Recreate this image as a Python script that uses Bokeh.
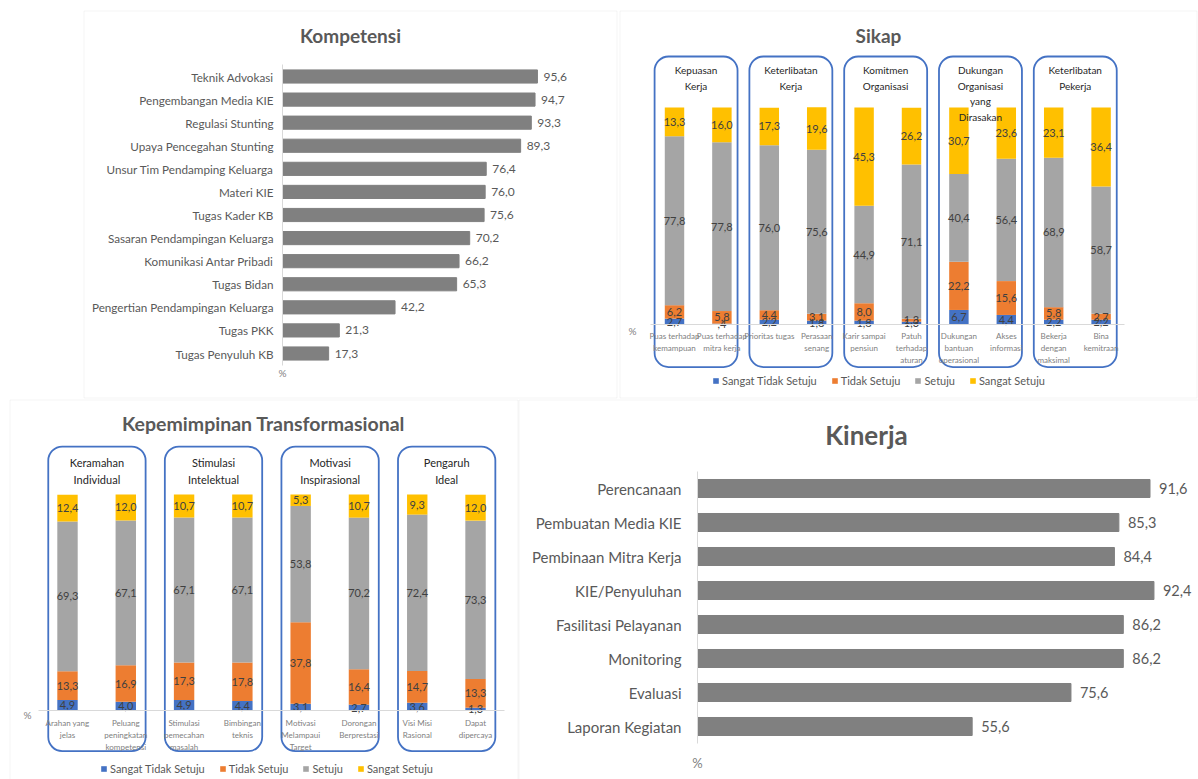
from bokeh.plotting import figure
from bokeh.models import (ColumnDataSource, Label, Legend, LegendItem, Range1d, LabelSet,
                          BoxAnnotation, LinearAxis, FixedTicker)
from bokeh.core.properties import value
from bokeh.embed import file_html
from bokeh.resources import INLINE

W, H = 1198, 779
FONT = "Lato"
GRAY_TXT = "#595959"
DARK_TXT = "#404040"

# ---------------- data ----------------
komp_cats = ["Teknik Advokasi", "Pengembangan Media KIE", "Regulasi Stunting",
             "Upaya Pencegahan Stunting", "Unsur Tim Pendamping Keluarga", "Materi KIE",
             "Tugas Kader KB", "Sasaran Pendampingan Keluarga", "Komunikasi Antar Pribadi",
             "Tugas Bidan", "Pengertian Pendampingan Keluarga", "Tugas PKK", "Tugas Penyuluh KB"]
komp_vals = [95.6, 94.7, 93.3, 89.3, 76.4, 76.0, 75.6, 70.2, 66.2, 65.3, 42.2, 21.3, 17.3]

kin_cats = ["Perencanaan", "Pembuatan Media KIE", "Pembinaan Mitra Kerja", "KIE/Penyuluhan",
            "Fasilitasi Pelayanan", "Monitoring", "Evaluasi", "Laporan Kegiatan"]
kin_vals = [91.6, 85.3, 84.4, 92.4, 86.2, 86.2, 75.6, 55.6]

series_names = ["Sangat Tidak Setuju", "Tidak Setuju", "Setuju", "Sangat Setuju"]
series_colors = ["#4472C4", "#ED7D31", "#A5A5A5", "#FFC000"]

sikap_cats = ["Puas terhadap\nkemampuan", "Puas terhadap\nmitra kerja", "Prioritas tugas",
              "Perasaan\nsenang", "Karir sampai\npensiun", "Patuh\nterhadap\naturan",
              "Dukungan\nbantuan\noperasional", "Akses\ninformasi", "Bekerja\ndengan\nmaksimal",
              "Bina\nkemitraan"]
sikap_sts = [2.7, 0.4, 2.2, 1.8, 1.8, 1.3, 6.7, 4.4, 2.2, 2.2]
sikap_ts = [6.2, 5.8, 4.4, 3.1, 8.0, 1.3, 22.2, 15.6, 5.8, 2.7]
sikap_s = [77.8, 77.8, 76.0, 75.6, 44.9, 71.1, 40.4, 56.4, 68.9, 58.7]
sikap_ss = [13.3, 16.0, 17.3, 19.6, 45.3, 26.2, 30.7, 23.6, 23.1, 36.4]
sikap_groups = ["Kepuasan\nKerja", "Keterlibatan\nKerja", "Komitmen\nOrganisasi",
                "Dukungan\nOrganisasi\nyang\nDirasakan", "Keterlibatan\nPekerja"]

kep_cats = ["Arahan yang\njelas", "Peluang\npeningkatan\nkompetensi", "Stimulasi\npemecahan\nmasalah",
            "Bimbingan\nteknis", "Motivasi\nMelampaui\nTarget", "Dorongan\nBerprestasi",
            "Visi Misi\nRasional", "Dapat\ndipercaya"]
kep_sts = [4.9, 4.0, 4.9, 4.4, 3.1, 2.7, 3.6, 1.3]
kep_ts = [13.3, 16.9, 17.3, 17.8, 37.8, 16.4, 14.7, 13.3]
kep_s = [69.3, 67.1, 67.1, 67.1, 53.8, 70.2, 72.4, 73.3]
kep_ss = [12.4, 12.0, 10.7, 10.7, 5.3, 10.7, 9.3, 12.0]
kep_groups = ["Keramahan\nIndividual", "Stimulasi\nIntelektual", "Motivasi\nInspirasional",
              "Pengaruh\nIdeal"]


def fmt(v):
    s = f"{v:.1f}".replace(".", ",")
    return s[1:] if s.startswith("0") else s


# one canvas; default ranges are page pixels (y downwards), each panel gets its own ranges
p = figure(width=W, height=H, x_range=Range1d(0, W), y_range=Range1d(H, 0),
           output_backend="svg", toolbar_location=None, x_axis_location=None,
           y_axis_location=None, min_border=0)
p.title.visible = False
p.outline_line_color = None
p.xgrid.visible = False
p.ygrid.visible = False


def x_map(name, px0, ppu):
    # value 0 sits at pixel px0, ppu pixels per unit (rightwards)
    p.extra_x_ranges[name] = Range1d(-px0 / ppu, (W - px0) / ppu)


def y_up(name, py0, ppu):
    # value 0 at pixel row py0, values grow upwards
    p.extra_y_ranges[name] = Range1d((py0 - H) / ppu, py0 / ppu)


def y_down(name, py0, ppu):
    # index 0 at pixel row py0, indices grow downwards
    p.extra_y_ranges[name] = Range1d((H - py0) / ppu, -py0 / ppu)


def panel_border(l, t, r, b):
    p.add_layout(BoxAnnotation(left=l + 0.5, right=r - 0.5, top=t + 0.5, bottom=b - 0.5,
                               fill_alpha=0, fill_color=None, line_color="#d9d9d9",
                               line_width=1, level="underlay"))


def title(text, x, y, size):
    p.add_layout(Label(x=x, y=y, text=text, text_align="center", text_baseline="middle",
                       text_font=FONT, text_font_style="bold", text_font_size=size,
                       text_color=GRAY_TXT))


def hbar_panel(key, cats, vals, bar_h, label_fs, val_fs, val_off, standoff, pct_y, pct_fs):
    xr, yr = key + "x", key + "y"
    idx = list(range(len(cats)))
    src = ColumnDataSource(dict(i=idx, v=vals, t=[fmt(v) for v in vals]))
    p.hbar(y="i", right="v", left=0, height=bar_h, source=src, color="#808080",
           x_range_name=xr, y_range_name=yr)
    p.add_layout(LabelSet(x="v", y="i", text="t", source=src, x_offset=val_off,
                          text_baseline="middle", text_font=value(FONT),
                          text_font_size=val_fs, text_color=GRAY_TXT,
                          x_range_name=xr, y_range_name=yr))
    ax = LinearAxis(x_range_name=xr, y_range_name=yr, fixed_location=0,
                    ticker=FixedTicker(ticks=idx),
                    major_label_overrides={i: c for i, c in zip(idx, cats)},
                    bounds=(-0.5, len(cats) - 0.5))
    ax.axis_line_color = "#d9d9d9"
    ax.major_tick_line_color = None
    ax.minor_tick_line_color = None
    ax.major_tick_out = 0
    ax.major_tick_in = 0
    ax.major_label_standoff = standoff
    ax.major_label_text_font = FONT
    ax.major_label_text_font_size = label_fs
    ax.major_label_text_color = GRAY_TXT
    p.add_layout(ax, "left")
    p.add_layout(Label(x=0, y=pct_y, x_range_name=xr, text="%", text_align="center",
                       text_baseline="middle", text_font=FONT, text_font_size=pct_fs,
                       text_color="#7f7f7f"))


def stack_panel(key, cats, data, groups, bar_w, box_l, box_r, box_lo, box_hi, grp_y, grp_fs,
                standoff, legend_xy):
    xr, yr = key + "x", key + "y"
    n = len(cats)
    idx = list(range(n))
    d = dict(i=idx)
    for name, vals in zip(series_names, data):
        d[name] = vals
    src = ColumnDataSource(d)
    rends = p.vbar_stack(series_names, x="i", width=bar_w, color=series_colors, source=src,
                         line_color=None, x_range_name=xr, y_range_name=yr)
    cum = [0.0] * n
    for vals in data:
        ys = [c + v / 2 for c, v in zip(cum, vals)]
        cum = [c + v for c, v in zip(cum, vals)]
        ls = ColumnDataSource(dict(x=idx, y=ys, t=[fmt(v) for v in vals]))
        p.text(x="x", y="y", text="t", source=ls, text_align="center", text_baseline="middle",
               text_font=value(FONT), text_font_size="11px", text_color=DARK_TXT,
               x_range_name=xr, y_range_name=yr)
    firsts = idx[0::2]
    gsrc = ColumnDataSource(dict(
        left=[f + box_l for f in firsts], right=[f + 1 + box_r for f in firsts],
        mid=[f + (box_l + 1 + box_r) / 2 for f in firsts], g=groups,
        top=[box_hi] * len(groups), bot=[box_lo] * len(groups), gy=[grp_y] * len(groups)))
    p.quad(left="left", right="right", top="top", bottom="bot", source=gsrc, fill_color=None,
           line_color="#4472C4", line_width=1.8, border_radius=14,
           x_range_name=xr, y_range_name=yr)
    p.text(x="mid", y="gy", text="g", source=gsrc, text_align="center", text_baseline="top",
           text_font=value(FONT), text_font_size=grp_fs, text_color="#262626",
           text_line_height=1.3, x_range_name=xr, y_range_name=yr)
    ax = LinearAxis(x_range_name=xr, y_range_name=yr, fixed_location=0,
                    ticker=FixedTicker(ticks=idx),
                    major_label_overrides={i: c for i, c in zip(idx, cats)},
                    bounds=(-0.5, n - 0.5))
    ax.axis_line_color = "#d9d9d9"
    ax.major_tick_line_color = None
    ax.minor_tick_line_color = None
    ax.major_tick_out = 0
    ax.major_tick_in = 0
    ax.major_label_standoff = standoff
    ax.major_label_text_font = FONT
    ax.major_label_text_font_size = "8px"
    ax.major_label_text_color = "#808080"
    p.add_layout(ax, "below")
    leg = Legend(items=[LegendItem(label=nm, renderers=[rr]) for nm, rr in zip(series_names, rends)],
                 orientation="horizontal", location=legend_xy, border_line_color=None,
                 background_fill_alpha=0, glyph_width=7, glyph_height=7, label_height=13,
                 label_text_font=FONT, label_text_font_size="11px", label_text_color=GRAY_TXT,
                 padding=0, margin=0, spacing=14, label_standoff=3)
    p.add_layout(leg, "center")


# ---- panel borders ----
panel_border(83, 10, 617, 398)
panel_border(619, 10, 1197, 398)
panel_border(9, 399, 518, 790)
panel_border(518, 399, 1210, 790)

# ---- Kompetensi ----
x_map("kx", 282, 320 / 120)
y_down("ky", 76, 277 / 12)
hbar_panel("k", komp_cats, komp_vals, bar_h=0.57, label_fs="11.7px", val_fs="12px",
           val_off=6, standoff=9, pct_y=372, pct_fs="10px")
title("Kompetensi", 350, 35, "19px")

# ---- Kinerja ----
x_map("nx", 697, 494 / 100)
y_down("ny", 488, 34)
hbar_panel("n", kin_cats, kin_vals, bar_h=0.53, label_fs="15px", val_fs="14.5px",
           val_off=9, standoff=16, pct_y=762, pct_fs="13px")
title("Kinerja", 866, 434, "26px")

# ---- Sikap ----
x_map("sx", 674, 47.4)
y_up("sy", 324, 2.17)
stack_panel("s", sikap_cats, [sikap_sts, sikap_ts, sikap_s, sikap_ss], sikap_groups,
            bar_w=0.41, box_l=-0.42, box_r=0.33, box_lo=-19.6, box_hi=123.5, grp_y=120.0,
            grp_fs="10px", standoff=6, legend_xy=(712, H - 387))
title("Sikap", 878, 35, "19px")
p.add_layout(Label(x=632, y=330, text="%", text_align="center", text_baseline="middle",
                   text_font=FONT, text_font_size="10px", text_color="#7f7f7f"))

# ---- Kepemimpinan Transformasional ----
x_map("px", 67, 58.29)
y_up("py", 710, 2.16)
stack_panel("p", kep_cats, [kep_sts, kep_ts, kep_s, kep_ss], kep_groups,
            bar_w=0.35, box_l=-0.33, box_r=0.34, box_lo=-18.8, box_hi=122.2, grp_y=117.6,
            grp_fs="11px", standoff=7, legend_xy=(100, H - 775))
title("Kepemimpinan Transformasional", 263, 423, "19.5px")
p.add_layout(Label(x=27, y=714, text="%", text_align="center", text_baseline="middle",
                   text_font=FONT, text_font_size="10px", text_color="#7f7f7f"))

open("out.html", "w").write(file_html(p, INLINE))
